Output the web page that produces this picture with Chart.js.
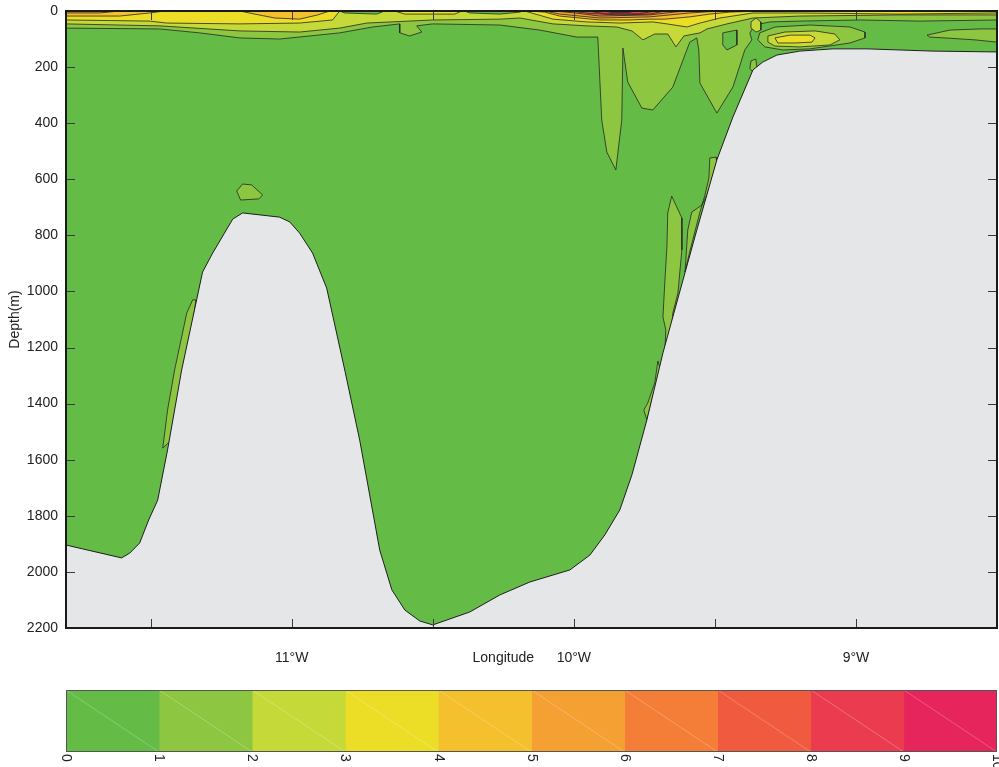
<!DOCTYPE html>
<html>
<head>
<meta charset="utf-8">
<title>Section</title>
<script src="https://cdn.jsdelivr.net/npm/chart.js@4.4.1/dist/chart.umd.min.js"></script>
<style>
  html, body { margin: 0; padding: 0; background: #fff; }
  canvas { display: block; }
</style>
</head>
<body>
<canvas id="section" width="999" height="680"></canvas>
<canvas id="colorbar" width="999" height="87"></canvas>
<script>
const FONT = "'Liberation Sans', Arial, Helvetica, sans-serif";

// colour levels 0..10
const levelTicks = [0, 1, 2, 3, 4, 5, 6, 7, 8, 9, 10];
const levelColors = ['#64BC47', '#8DC641', '#C5DA38', '#ECDD27', '#F4C02E',
                     '#F5A033', '#F47E37', '#F05A3F', '#EA3B4F', '#E6255C'];

// axes
const lonMin = -11.8, lonMax = -8.5;
const lonTickMarks = [-11.5, -11, -10.5, -10, -9.5, -9];
const lonLabelValues = [-11, -10, -9];
const lonLabelText = ['11\u00B0W', '10\u00B0W', '9\u00B0W'];
const lonTitleAt = -10.25;
const depthMax = 2200;
const depthStep = 200;

// sea floor [lon, depth]
const bathymetry = [
  [-11.80, 1904], [-11.741, 1918], [-11.603, 1950], [-11.574, 1933], [-11.539, 1897],
  [-11.507, 1815], [-11.475, 1744], [-11.440, 1565], [-11.390, 1280], [-11.316, 931],
  [-11.280, 863], [-11.209, 742], [-11.174, 720], [-11.043, 735], [-11.007, 752],
  [-10.972, 792], [-10.926, 863], [-10.876, 988], [-10.812, 1280], [-10.759, 1530],
  [-10.688, 1922], [-10.645, 2064], [-10.599, 2136], [-10.546, 2175], [-10.500, 2189],
  [-10.369, 2143], [-10.262, 2082], [-10.156, 2036], [-10.014, 1993], [-9.943, 1940],
  [-9.890, 1868], [-9.837, 1779], [-9.794, 1654], [-9.741, 1458], [-9.684, 1219],
  [-9.613, 959], [-9.564, 781], [-9.493, 531], [-9.436, 378], [-9.365, 210],
  [-9.330, 182], [-9.280, 157], [-9.199, 143], [-9.082, 135], [-8.961, 135],
  [-8.727, 143], [-8.50, 146]
];

// lower edges of the near-surface bands (value above level n), [lon, depth]
const surface1 = [
  [-11.801, 61], [-11.468, 64], [-11.326, 78], [-11.184, 96], [-11.043, 100], [-10.830, 78],
  [-10.713, 57], [-10.617, 46], [-10.617, 78], [-10.582, 89], [-10.539, 75], [-10.557, 53],
  [-10.500, 46], [-10.262, 50], [-10.121, 68], [-9.989, 93], [-9.915, 93], [-9.901, 389],
  [-9.883, 503], [-9.851, 567], [-9.830, 389], [-9.826, 132], [-9.809, 253], [-9.759, 346],
  [-9.720, 353], [-9.649, 271], [-9.613, 175], [-9.589, 111], [-9.564, 96], [-9.557, 139],
  [-9.553, 257], [-9.493, 364], [-9.436, 271], [-9.411, 193], [-9.394, 139], [-9.369, 103],
  [-9.376, 78], [-9.358, 50], [-9.305, 39], [-9.199, 36], [-8.986, 32], [-8.773, 36], [-8.500, 32]
];
const surface2 = [
  [-11.801, 46], [-11.468, 53], [-11.184, 71], [-10.972, 75], [-10.830, 61], [-10.734, 43],
  [-10.500, 32], [-10.262, 29], [-10.191, 25], [-10.074, 46], [-9.954, 53], [-9.848, 57],
  [-9.794, 71], [-9.755, 103], [-9.713, 82], [-9.667, 82], [-9.638, 128], [-9.610, 89],
  [-9.553, 78], [-9.528, 64], [-9.457, 46], [-9.365, 25], [-9.199, 18], [-8.844, 14], [-8.500, 14]
];
const surface3 = [
  [-11.801, 32], [-11.504, 36], [-11.443, 43], [-11.184, 46], [-10.972, 43], [-10.855, 32],
  [-10.830, 0], [-10.635, 0], [-10.599, 11], [-10.422, 11], [-10.397, 0], [-10.174, 0],
  [-10.074, 29], [-9.954, 39], [-9.837, 43], [-9.720, 39], [-9.670, 46], [-9.599, 57],
  [-9.553, 43], [-9.482, 25], [-9.365, 7], [-9.199, 7], [-8.844, 11], [-8.500, 7]
];
const surface4 = [
  [-11.801, 18], [-11.610, 18], [-11.504, 7], [-11.450, 0], [-11.184, 0], [-11.131, 11],
  [-11.060, 25], [-10.972, 29], [-10.908, 14], [-10.865, 0], [-10.156, 0], [-10.103, 4],
  [-10.050, 18], [-9.908, 32], [-9.801, 32], [-9.731, 29], [-9.677, 29], [-9.589, 21],
  [-9.518, 11], [-9.447, 4], [-9.340, 0], [-8.500, 0]
];
const surface5West = [[-11.801, 0], [-11.801, 7], [-11.681, 7], [-11.610, 0]];
const surface5 = [[-10.103, 0], [-10.050, 11], [-9.908, 25], [-9.731, 21], [-9.589, 7], [-9.482, 0]];
const surface6 = [[-10.067, 0], [-9.996, 7], [-9.908, 18], [-9.731, 14], [-9.645, 4], [-9.606, 0]];
const surface7 = [[-10.014, 0], [-9.943, 9], [-9.837, 14], [-9.731, 11], [-9.677, 0]];
const surface8 = [[-9.950, 0], [-9.890, 10], [-9.766, 10], [-9.713, 0]];
const surface9 = [[-9.890, 0], [-9.865, 6], [-9.809, 6], [-9.784, 0]];

// closed patches [lon, depth]
const hillPatch = [[-11.195, 642], [-11.174, 617], [-11.142, 620], [-11.103, 656], [-11.117, 670], [-11.181, 674]];
const westSliver = [[-11.351, 1030], [-11.372, 1077], [-11.415, 1280], [-11.440, 1423], [-11.457, 1558],
                    [-11.426, 1530], [-11.379, 1280], [-11.344, 1066], [-11.340, 1030]];
const eastSliverA = [[-9.653, 660], [-9.617, 738], [-9.617, 852], [-9.631, 1006], [-9.649, 1077], [-9.653, 1127],
                     [-9.677, 1209], [-9.674, 1137], [-9.684, 1091], [-9.677, 959], [-9.670, 841], [-9.667, 720]];
const eastSliverB = [[-9.518, 524], [-9.496, 521], [-9.493, 538], [-9.511, 603], [-9.528, 656], [-9.546, 692],
                     [-9.582, 717], [-9.596, 781], [-9.603, 888], [-9.606, 931], [-9.592, 870], [-9.574, 799],
                     [-9.553, 717], [-9.535, 656], [-9.521, 595]];
const eastSliverC = [[-9.702, 1248], [-9.713, 1326], [-9.738, 1398], [-9.752, 1423], [-9.741, 1458],
                     [-9.723, 1387], [-9.706, 1334], [-9.695, 1273]];
const shelfBlob = [[-9.372, 178], [-9.355, 171], [-9.351, 200], [-9.365, 218], [-9.376, 205]];
const eddyOuter = [[-9.341, 78], [-9.287, 57], [-9.163, 50], [-9.021, 57], [-8.968, 75], [-8.968, 96],
                   [-9.021, 114], [-9.163, 135], [-9.259, 139], [-9.323, 128], [-9.348, 103]];
const eastLens = [[-8.748, 86], [-8.667, 68], [-8.560, 64], [-8.5, 64], [-8.5, 111], [-8.578, 103],
                  [-8.684, 96], [-8.738, 93]];
const eddyMiddle = [[-9.312, 89], [-9.252, 75], [-9.145, 71], [-9.075, 82], [-9.057, 103], [-9.092, 121],
                    [-9.199, 128], [-9.287, 125], [-9.312, 111]];
const smallRing = [[-9.372, 39], [-9.354, 25], [-9.337, 39], [-9.337, 68], [-9.354, 75], [-9.372, 61]];
const eddyCore = [[-9.287, 96], [-9.234, 86], [-9.163, 86], [-9.145, 96], [-9.156, 111], [-9.216, 114], [-9.277, 114]];
const tongueHole = [[-9.472, 78], [-9.422, 68], [-9.422, 121], [-9.457, 139], [-9.472, 121]];
const surfaceHoleA = [[-10.830, 0], [-10.812, 7], [-10.699, 11], [-10.670, 0]];
const surfaceHoleB = [[-10.387, 0], [-10.369, 7], [-10.262, 11], [-10.191, 4], [-10.184, 0]];

function closeRing(pts) { return pts.concat([pts[0]]); }
function fromSurface(pts) {
    const a = pts[0][0], b = pts[pts.length - 1][0];
    return [[a, 0]].concat(pts, [[b, 0], [a, 0]]);
}
function toXY(pts) { return pts.map(([lon, depth]) => ({ x: lon, y: depth })); }

// bottom to top
const layers = [
    { pts: fromSurface(surface1), level: 1 },
    { pts: closeRing(hillPatch), level: 1 },
    { pts: closeRing(westSliver), level: 1 },
    { pts: closeRing(eastSliverA), level: 1 },
    { pts: closeRing(eastSliverB), level: 1 },
    { pts: closeRing(eastSliverC), level: 1 },
    { pts: closeRing(shelfBlob), level: 1 },
    { pts: closeRing(eddyOuter), level: 1 },
    { pts: closeRing(eastLens), level: 1 },
    { pts: fromSurface(surface2), level: 2 },
    { pts: closeRing(smallRing), level: 2 },
    { pts: closeRing(eddyMiddle), level: 2 },
    { pts: closeRing(tongueHole), level: 0 },
    { pts: closeRing(surfaceHoleA), level: 0 },
    { pts: closeRing(surfaceHoleB), level: 0 },
    { pts: fromSurface(surface3), level: 3 },
    { pts: closeRing(eddyCore), level: 3 },
    { pts: fromSurface(surface4), level: 4 },
    { pts: closeRing(surface5West), level: 5 },
    { pts: closeRing(surface5), level: 5 },
    { pts: closeRing(surface6), level: 6 },
    { pts: closeRing(surface7), level: 7 },
    { pts: closeRing(surface8), level: 8 },
    { pts: closeRing(surface9), level: 9 },
];

const datasets = layers.map((l, i) => ({
    data: toXY(l.pts),
    showLine: true,
    fill: 'shape',
    backgroundColor: levelColors[l.level],
    borderColor: '#262626',
    borderWidth: 0.8,
    pointRadius: 0,
    tension: 0,
    order: layers.length - i + 1,
}));
datasets.push({
    data: toXY(bathymetry),
    showLine: true,
    fill: { value: depthMax },
    backgroundColor: '#E5E6E8',
    borderColor: '#1e1e1e',
    borderWidth: 1,
    pointRadius: 0,
    tension: 0,
    order: 0,
});

const sectionFrame = {
    id: 'sectionFrame',
    beforeDraw(chart) {
        const { ctx, chartArea: a } = chart;
        ctx.save();
        ctx.fillStyle = levelColors[0];
        ctx.fillRect(a.left, a.top, a.width, a.height);
        ctx.restore();
    },
    afterDatasetsDraw(chart) {
        const { ctx, chartArea: a, scales: { x, y } } = chart;
        ctx.save();
        ctx.strokeStyle = '#3a3a3a';
        ctx.lineWidth = 1;
        ctx.beginPath();
        lonTickMarks.forEach(v => {
            const px = Math.round(x.getPixelForValue(v)) + 0.5;
            ctx.moveTo(px, a.bottom); ctx.lineTo(px, a.bottom - 9);
            ctx.moveTo(px, a.top); ctx.lineTo(px, a.top + 9);
        });
        for (let d = depthStep; d < depthMax; d += depthStep) {
            const py = Math.round(y.getPixelForValue(d)) + 0.5;
            ctx.moveTo(a.left, py); ctx.lineTo(a.left + 9, py);
            ctx.moveTo(a.right, py); ctx.lineTo(a.right - 9, py);
        }
        ctx.stroke();
        ctx.lineWidth = 2;
        ctx.strokeStyle = '#1a1a1a';
        ctx.strokeRect(a.left, a.top, a.width, a.height);
        ctx.restore();
    }
};

new Chart(document.getElementById('section'), {
    type: 'scatter',
    data: { datasets },
    options: {
        responsive: false,
        animation: false,
        events: [],
        layout: { padding: { left: 0, right: 2, top: 11, bottom: 0 } },
        plugins: { legend: { display: false }, tooltip: { enabled: false } },
        scales: {
            x: {
                type: 'linear', min: lonMin, max: lonMax,
                afterFit: s => { s.height = 52; s.paddingLeft = 0; s.paddingRight = 0; },
                afterBuildTicks: s => {
                    s.ticks = lonLabelValues.concat([lonTitleAt]).sort((p, q) => p - q).map(v => ({ value: v }));
                },
                grid: { display: false, drawTicks: false },
                border: { display: false },
                ticks: {
                    autoSkip: false, maxRotation: 0, padding: 22, color: '#222',
                    font: { family: FONT, size: 14 },
                    callback: v => {
                        if (v === lonTitleAt) return 'Longitude';
                        const k = lonLabelValues.indexOf(v);
                        return k >= 0 ? lonLabelText[k] : '';
                    }
                }
            },
            y: {
                type: 'linear', reverse: true, min: 0, max: depthMax,
                afterFit: s => { s.width = 66; s.paddingTop = 0; s.paddingBottom = 0; },
                grid: { display: false, drawTicks: false },
                border: { display: false },
                ticks: {
                    stepSize: depthStep, padding: 8, color: '#222',
                    font: { family: FONT, size: 14 },
                    callback: v => String(v)
                },
                title: { display: true, text: 'Depth(m)', color: '#222', font: { family: FONT, size: 14 }, padding: { top: 7, bottom: 0 } }
            }
        }
    },
    plugins: [sectionFrame]
});

// colour bar
const colorbarDecor = {
    id: 'colorbarDecor',
    afterDatasetsDraw(chart) {
        const { ctx, chartArea: a } = chart;
        ctx.save();
        ctx.strokeStyle = 'rgba(255,255,255,0.35)';
        ctx.lineWidth = 0.7;
        chart.data.datasets.forEach((ds, i) => {
            const bar = chart.getDatasetMeta(i).data[0];
            const { x, y, base, height } = bar.getProps(['x', 'y', 'base', 'height'], true);
            ctx.beginPath();
            ctx.moveTo(base, y - height / 2);
            ctx.lineTo(x, y + height / 2);
            ctx.stroke();
        });
        ctx.strokeStyle = '#555';
        ctx.lineWidth = 1;
        ctx.strokeRect(a.left + 0.5, a.top + 0.5, a.width - 1, a.height - 1);
        const xs = chart.scales.x;
        ctx.fillStyle = '#222';
        ctx.font = '14px ' + FONT;
        ctx.textAlign = 'left';
        ctx.textBaseline = 'middle';
        levelTicks.forEach(v => {
            ctx.save();
            ctx.translate(xs.getPixelForValue(v), a.bottom + 2);
            ctx.rotate(Math.PI / 2);
            ctx.fillText(String(v), 0, 0);
            ctx.restore();
        });
        ctx.restore();
    }
};

new Chart(document.getElementById('colorbar'), {
    type: 'bar',
    data: {
        labels: [''],
        datasets: levelColors.map((c, i) => ({
            data: [[levelTicks[i], levelTicks[i + 1]]],
            backgroundColor: c,
            borderWidth: 0,
            barPercentage: 1,
            categoryPercentage: 1,
            grouped: false,
        }))
    },
    options: {
        indexAxis: 'y',
        responsive: false,
        animation: false,
        events: [],
        layout: { padding: { left: 66, right: 2, top: 10, bottom: 15 } },
        plugins: { legend: { display: false }, tooltip: { enabled: false } },
        scales: {
            x: { type: 'linear', min: 0, max: 10, display: false },
            y: { display: false }
        }
    },
    plugins: [colorbarDecor]
});
</script>
</body>
</html>
